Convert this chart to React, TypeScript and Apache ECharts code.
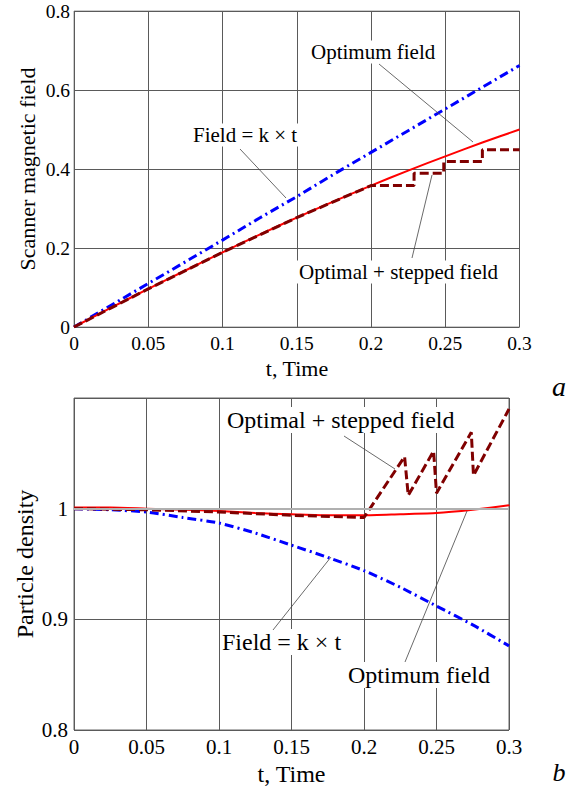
import React, { useEffect, useRef } from "react";
import * as echarts from "echarts";

// ---- Data ----
const timeGrid = [0, 0.025, 0.05, 0.075, 0.1, 0.125, 0.15, 0.175, 0.2, 0.225, 0.25, 0.275, 0.3];

// Panel a: scanner magnetic field
const fieldLinearA = [0, 0.055, 0.11, 0.165, 0.22, 0.276, 0.33, 0.387, 0.442, 0.497, 0.552, 0.607, 0.662];
const fieldOptimumA = [0, 0.049, 0.0965, 0.143, 0.189, 0.234, 0.277, 0.318, 0.358, 0.396, 0.432, 0.467, 0.5];
const stepTimesA = [0, 0.05, 0.1, 0.15, 0.2, 0.229, 0.229, 0.249, 0.249, 0.275, 0.275, 0.3];
const stepValuesA = [0, 0.0965, 0.189, 0.277, 0.358, 0.358, 0.389, 0.389, 0.419, 0.419, 0.449, 0.449];

// Panel b: particle density
const densityLinearB = [1.0, 0.999, 0.997, 0.992, 0.987, 0.978, 0.967, 0.956, 0.944, 0.929, 0.912, 0.895, 0.876];
const densityOptimumB = [1.001, 1.001, 1.0, 0.999, 0.998, 0.996, 0.995, 0.994, 0.994, 0.995, 0.996, 0.999, 1.003];
const stepTimesB = [0, 0.05, 0.1, 0.15, 0.2, 0.228, 0.2305, 0.248, 0.25, 0.274, 0.2755, 0.3];
const stepValuesB = [1.0, 0.999, 0.997, 0.994, 0.992, 1.047, 1.012, 1.052, 1.014, 1.069, 1.03, 1.09];

const xTicks = [0, 0.05, 0.1, 0.15, 0.2, 0.25, 0.3];

const SERIF = "Liberation Serif";
const BLUE = "#0000ff";
const RED = "#ff0000";
const DARKRED = "#800000";
const DASHDOT = [9, 4, 2, 4];
const DASHED = [9, 4];

function pairs(xs: number[], ys: number[]) {
  return xs.map((x, i) => [x, ys[i]]);
}

function fmt(v: number) {
  return String(parseFloat(v.toFixed(3)));
}

function txt(text: string, x: number, y: number, size: number, opts: any = {}) {
  return {
    type: "text",
    x,
    y,
    z: 20,
    rotation: opts.rotation || 0,
    style: {
      text,
      fontFamily: SERIF,
      fontSize: size,
      fontStyle: opts.italic ? "italic" : "normal",
      fill: "#000",
      textAlign: opts.align || "center",
      textVerticalAlign: opts.valign || "middle",
      align: opts.align || "center",
      verticalAlign: opts.valign || "middle",
      backgroundColor: opts.bg ? "#fff" : undefined,
      padding: opts.bg ? [1, 2, 1, 2] : undefined,
    },
  };
}

function leader(x1: number, y1: number, x2: number, y2: number) {
  return {
    type: "line",
    z: 21,
    shape: { x1, y1, x2, y2 },
    style: { stroke: "#444", lineWidth: 0.8 },
  };
}

export default function App() {
  const ref = useRef<HTMLDivElement>(null);

  useEffect(() => {
    if (!ref.current) return;
    const chart = echarts.init(ref.current, undefined, { renderer: "svg" });

    const xAxisBase = (gridIndex: number, size: number) => ({
      type: "value",
      gridIndex,
      min: 0,
      max: 0.3,
      interval: 0.05,
      axisLine: { show: false },
      axisTick: { show: false },
      axisLabel: {
        color: "#000",
        fontFamily: SERIF,
        fontSize: size,
        margin: 6,
        formatter: (v: number) => (xTicks.some((t) => Math.abs(t - v) < 1e-6) ? fmt(v) : ""),
      },
      splitLine: { show: true, lineStyle: { color: "#5a5a5a", width: 1 } },
    });

    const option: any = {
      animation: false,
      backgroundColor: "#fff",
      textStyle: { fontFamily: SERIF },
      grid: [
        { left: 74, top: 11, width: 445.5, height: 316, show: true, borderColor: "#999", borderWidth: 1 },
        { left: 74, top: 398, width: 435, height: 332, show: true, borderColor: "#666", borderWidth: 1 },
      ],
      xAxis: [xAxisBase(0, 19.5), xAxisBase(1, 21)],
      yAxis: [
        {
          type: "value",
          gridIndex: 0,
          min: 0,
          max: 0.8,
          interval: 0.2,
          axisLine: { show: false },
          axisTick: { show: false },
          axisLabel: { color: "#000", fontFamily: SERIF, fontSize: 19.5, margin: 4, formatter: (v: number) => fmt(v) },
          splitLine: { show: true, lineStyle: { color: "#5a5a5a", width: 1 } },
        },
        {
          type: "value",
          gridIndex: 1,
          min: 0.8,
          max: 1.1,
          interval: 0.1,
          axisLine: { show: false },
          axisTick: { show: false },
          axisLabel: {
            color: "#000",
            fontFamily: SERIF,
            fontSize: 21,
            margin: 6,
            formatter: (v: number) => (v > 1.05 ? "" : fmt(v)),
          },
          splitLine: { show: true, lineStyle: { color: ["#5a5a5a", "#5a5a5a", "#b0b0b0", "#5a5a5a"], width: 1 } },
        },
      ],
      series: [
        {
          type: "line",
          xAxisIndex: 0,
          yAxisIndex: 0,
          data: pairs(timeGrid, fieldLinearA),
          showSymbol: false,
          lineStyle: { color: BLUE, width: 3, type: DASHDOT },
        },
        {
          type: "line",
          xAxisIndex: 0,
          yAxisIndex: 0,
          data: pairs(timeGrid, fieldOptimumA),
          showSymbol: false,
          smooth: 0.2,
          lineStyle: { color: RED, width: 2 },
        },
        {
          type: "line",
          xAxisIndex: 0,
          yAxisIndex: 0,
          data: pairs(stepTimesA, stepValuesA),
          showSymbol: false,
          lineStyle: { color: DARKRED, width: 3, type: DASHED },
        },
        {
          type: "line",
          xAxisIndex: 1,
          yAxisIndex: 1,
          data: pairs(timeGrid, densityLinearB),
          showSymbol: false,
          smooth: 0.2,
          lineStyle: { color: BLUE, width: 3, type: DASHDOT },
          markLine: {
            silent: true,
            symbol: "none",
            label: { show: false },
            lineStyle: { color: "#b0b0b0", width: 2, type: "solid" },
            data: [{ yAxis: 1 }],
          },
        },
        {
          type: "line",
          xAxisIndex: 1,
          yAxisIndex: 1,
          data: pairs(timeGrid, densityOptimumB),
          showSymbol: false,
          smooth: 0.2,
          lineStyle: { color: RED, width: 2 },
        },
        {
          type: "line",
          xAxisIndex: 1,
          yAxisIndex: 1,
          data: pairs(stepTimesB, stepValuesB),
          showSymbol: false,
          lineStyle: { color: DARKRED, width: 3, type: DASHED },
        },
      ],
      graphic: [
        // Panel a titles
        txt("Scanner magnetic field", 27, 169, 22, { rotation: Math.PI / 2 }),
        txt("t, Time", 297, 368, 22),
        txt("a", 559, 386, 28, { italic: true }),
        // Panel a annotations
        txt("Optimum field", 309, 52, 21, { align: "left", bg: true }),
        txt("Field = k × t", 191, 135, 21, { align: "left", bg: true }),
        txt("Optimal + stepped field", 297, 272, 21, { align: "left", bg: true }),
        leader(379, 64, 473, 142),
        leader(240, 149, 286, 198),
        leader(412, 258, 432, 175),
        // Panel b titles
        txt("Particle density", 25, 564, 24, { rotation: Math.PI / 2 }),
        txt("t, Time", 291.5, 774, 24),
        txt("b", 559, 785, 26, { italic: true, valign: "bottom" }),
        // Panel b annotations
        txt("Optimal + stepped field", 225, 420, 24, { align: "left", bg: true }),
        txt("Field = k × t", 220, 642, 24, { align: "left", bg: true }),
        txt("Optimum field", 346, 675, 24, { align: "left", bg: true }),
        leader(344, 436, 395, 469),
        leader(273, 630, 331, 557),
        leader(405, 662, 467, 511),
      ],
    };

    chart.setOption(option);
    return () => chart.dispose();
  }, []);

  return (
    <div
      ref={ref}
      style={{ position: "fixed", left: 0, top: 0, width: 572, height: 786, background: "#fff" }}
    />
  );
}
